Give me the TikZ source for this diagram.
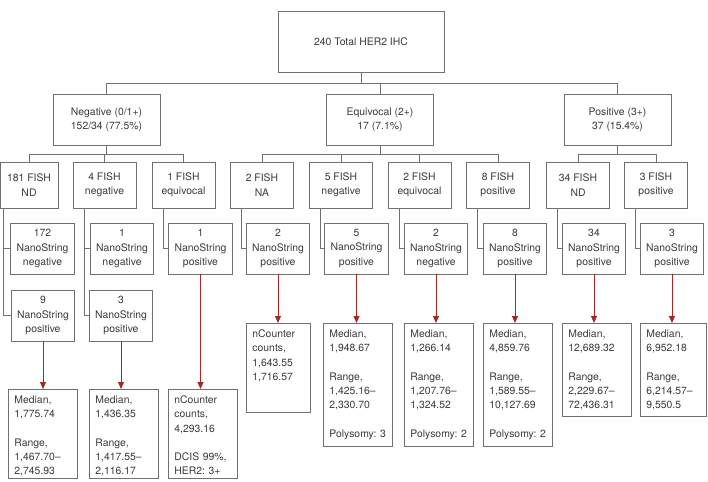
\documentclass[tikz,border=0pt]{standalone}
\usepackage{fontspec}
\setmainfont{TeX Gyre Heros}
\usetikzlibrary{arrows.meta,positioning}
\definecolor{linegray}{HTML}{707070}
\definecolor{textgray}{HTML}{3A3A3A}
\definecolor{arrowred}{HTML}{A02828}
\frenchspacing

\begin{document}
\begin{tikzpicture}[x=1pt,y=-1pt,font=\fontsize{10.4}{14.3}\selectfont,text=textgray,
  box/.style={draw=linegray,line width=0.9pt,align=center,inner sep=0pt},
  fishbox/.style={box,minimum width=63pt,minimum height=46pt},
  nsbox/.style={box,minimum width=63.5pt,minimum height=51pt},
  resbox/.style={draw=linegray,line width=0.9pt,anchor=north west,align=left,
    text width=57pt,inner xsep=6pt,inner ysep=5.5pt,text height=8.5pt,text depth=#1},
  link/.style={draw=linegray,line width=0.9pt},
  redarrow/.style={-{Triangle[length=7pt,width=6pt]},draw=arrowred,line width=0.9pt}]
  \useasboundingbox (0,0) rectangle (708,481);
  % IHC levels
  \node[box,minimum width=166pt,minimum height=61pt] (top) at (361,41.5) {240 Total HER2 IHC};
  \node[box,minimum width=107pt,minimum height=51pt] (neg) at (106.5,119.5)
    {Negative (0/1+)\\152/34 (77.5\%)};
  \node[box,minimum width=107pt,minimum height=51pt] (equ) at (380,119.5)
    {Equivocal (2+)\\17 (7.1\%)};
  \node[box,minimum width=107pt,minimum height=51pt] (pos) at (617.5,119.5)
    {Positive (3+)\\37 (15.4\%)};
  \draw[link] (top.south) -- ++(0,11) -| (neg.north);
  \draw[link] (top.south) -- ++(0,11) -| (equ.north);
  \draw[link] (top.south) -- ++(0,11) -| (pos.north);
  % FISH
  \node[fishbox,minimum width=58pt] (f1) at (29,185) {181 FISH\\ND};
  \node[fishbox] (f2) at (104.5,185) {4 FISH\\negative};
  \node[fishbox] (f3) at (183.5,185) {1 FISH\\equivocal};
  \node[fishbox] (f4) at (262,185) {2 FISH\\NA};
  \node[fishbox] (f5) at (341,185) {5 FISH\\negative};
  \node[fishbox] (f6) at (419.5,185) {2 FISH\\equivocal};
  \node[fishbox] (f7) at (498,185) {8 FISH\\positive};
  \node[fishbox] (f8) at (578,185) {34 FISH\\ND};
  \node[fishbox] (f9) at (656,185) {3 FISH\\positive};
  \draw[link] (neg.south) -- ++(0,9) -| (f1.north);
  \draw[link] (neg.south) -- ++(0,9) -| (f2.north);
  \draw[link] (neg.south) -- ++(0,9) -| (f3.north);
  \draw[link] (equ.south) -- ++(0,9) -| (f4.north);
  \draw[link] (equ.south) -- ++(0,9) -| (f5.north);
  \draw[link] (equ.south) -- ++(0,9) -| (f6.north);
  \draw[link] (equ.south) -- ++(0,9) -| (f7.north);
  \draw[link] (pos.south) -- ++(0,9) -| (f8.north);
  \draw[link] (pos.south) -- ++(0,9) -| (f9.north);
  % NanoString
  \node[nsbox] (n1) at (42.5,248.5) {172\\NanoString\\negative};
  \node[nsbox] (p1) at (43,315.5) {9\\NanoString\\positive};
  \node[nsbox] (n2) at (122,248.5) {1\\NanoString\\negative};
  \node[nsbox] (p2) at (121,315.5) {3\\NanoString\\positive};
  \node[nsbox] (n3) at (200.5,248.5) {1\\NanoString\\positive};
  \node[nsbox] (n4) at (278,248.5) {2\\NanoString\\positive};
  \node[nsbox] (n5) at (356.5,248.5) {5\\NanoString\\positive};
  \node[nsbox] (n6) at (436,248.5) {2\\NanoString\\negative};
  \node[nsbox] (n7) at (515,248.5) {8\\NanoString\\positive};
  \node[nsbox] (n8) at (594,248.5) {34\\NanoString\\positive};
  \node[nsbox] (n9) at (672,248.5) {3\\NanoString\\positive};
  \draw[link] ([xshift=4pt]f1.south west) |- (n1.west);
  \draw[link] ([xshift=4pt]f1.south west) |- (p1.west);
  \draw[link] ([xshift=11.5pt]f2.south west) |- (n2.west);
  \draw[link] ([xshift=11.5pt]f2.south west) |- (p2.west);
  \draw[link] ([xshift=11.5pt]f3.south west) |- (n3.west);
  \draw[link] ([xshift=11.5pt]f4.south west) |- (n4.west);
  \draw[link] ([xshift=11.5pt]f5.south west) |- (n5.west);
  \draw[link] ([xshift=11.5pt]f6.south west) |- (n6.west);
  \draw[link] ([xshift=11.5pt]f7.south west) |- (n7.west);
  \draw[link] ([xshift=11.5pt]f8.south west) |- (n8.west);
  \draw[link] ([xshift=11.5pt]f9.south west) |- (n9.west);
  % counts
  \node[resbox=69.5pt] (r1) at (8,389) {Median,\\1,775.74\\[14.3pt]Range,\\1,467.70--\\2,745.93};
  \node[resbox=69.5pt] (r2) at (89,389) {Median,\\1,436.35\\[14.3pt]Range,\\1,417.55--\\2,116.17};
  \node[resbox=69.5pt] (r3) at (168,389) {nCounter\\counts,\\4,293.16\\[14.3pt]DCIS 99\%,\\HER2: 3+};
  \node[resbox=69.5pt,text width=52pt] (r4) at (246,323) {nCounter\\counts,\\1,643.55\\1,716.57};
  \node[resbox=103.5pt] (r5) at (323,323) {Median,\\1,948.67\\[14.3pt]Range,\\1,425.16--\\2,330.70\\[14.3pt]Polysomy: 3};
  \node[resbox=103.5pt] (r6) at (404,323) {Median,\\1,266.14\\[14.3pt]Range,\\1,207.76--\\1,324.52\\[14.3pt]Polysomy: 2};
  \node[resbox=103.5pt] (r7) at (483,323) {Median,\\4,859.76\\[14.3pt]Range,\\1,589.55--\\10,127.69\\[14.3pt]Polysomy: 2};
  \node[resbox=73.5pt] (r8) at (562,323) {Median,\\12,689.32\\[14.3pt]Range,\\2,229.67--\\72,436.31};
  \node[resbox=73.5pt,text width=54pt] (r9) at (640,323) {Median,\\6,952.18\\[14.3pt]Range,\\6,214.57--\\9,550.5};
  \draw[redarrow] (p1.south) -- (p1.south |- r1.north);
  \draw[redarrow] (p2.south) -- (p2.south |- r2.north);
  \draw[redarrow] (n3.south) -- (n3.south |- r3.north);
  \draw[redarrow] (n4.south) -- (n4.south |- r4.north);
  \draw[redarrow] (n5.south) -- (n5.south |- r5.north);
  \draw[redarrow] (n6.south) -- (n6.south |- r6.north);
  \draw[redarrow] (n7.south) -- (n7.south |- r7.north);
  \draw[redarrow] (n8.south) -- (n8.south |- r8.north);
  \draw[redarrow] (n9.south) -- (n9.south |- r9.north);
\end{tikzpicture}
\end{document}
